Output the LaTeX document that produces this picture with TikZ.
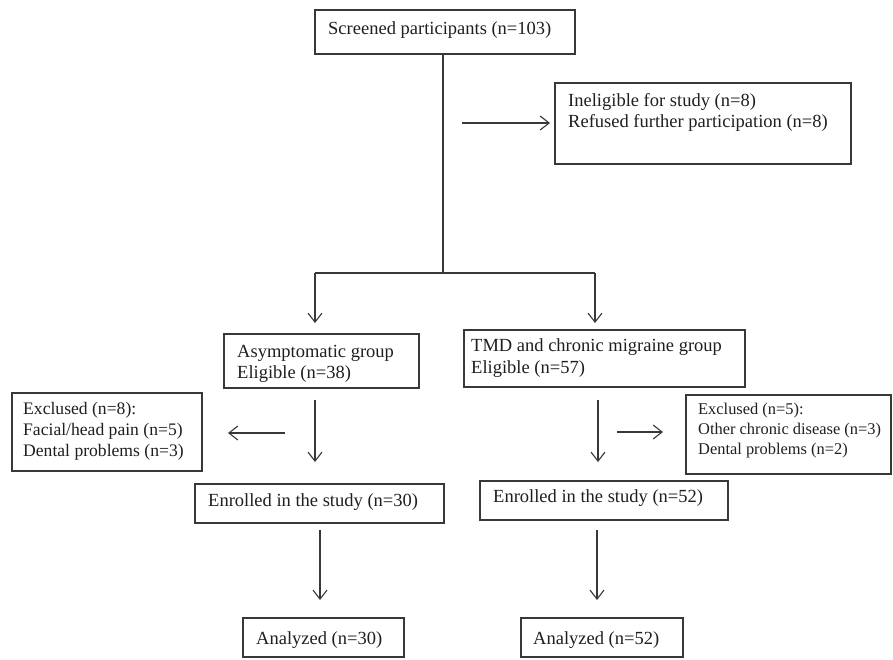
\documentclass[tikz,border=0pt]{standalone}
\usepackage{fontspec}
\setmainfont{Liberation Serif}
\usetikzlibrary{arrows.meta}
\definecolor{linec}{gray}{0.22}
\begin{document}
\begin{tikzpicture}[x=1pt,y=-1pt,
 box/.style={draw=linec, line width=1.2pt, inner sep=0pt, rectangle},
 txt/.style={anchor=west, inner sep=0pt, align=left, font=\fontsize{18.5}{21.5}\selectfont, text=black!88},
 midtxt/.style={txt, font=\fontsize{17.6}{21}\selectfont},
 smalltxt/.style={txt, font=\fontsize{16.4}{20}\selectfont},
 ln/.style={draw=linec, line width=1.1pt},
 arr/.style={ln, -{Straight Barb[length=9pt,width=14pt]}}]
\useasboundingbox (0,0) rectangle (893,659);
\fill[white] (0,0) rectangle (893,659);

% boxes
\node[box, minimum width=260pt, minimum height=44pt] (scr) at (445,32) {};
\node[box, minimum width=296pt, minimum height=81pt] (inel) at (703,123.5) {};
\node[box, minimum width=195pt, minimum height=54pt] (asym) at (321.5,361) {};
\node[box, minimum width=281pt, minimum height=57pt] (tmd) at (604.5,358.5) {};
\node[box, minimum width=190pt, minimum height=78pt] (exl) at (107,432) {};
\node[box, minimum width=205pt, minimum height=79pt] (exr) at (788.5,434.5) {};
\node[box, minimum width=249pt, minimum height=39pt] (enl) at (319.5,503.5) {};
\node[box, minimum width=248pt, minimum height=39pt] (enr) at (604,500.5) {};
\node[box, minimum width=161pt, minimum height=39pt] (anl) at (323.5,637.5) {};
\node[box, minimum width=162pt, minimum height=39pt] (anr) at (602,637.5) {};

% texts
\node[txt] (tscr) at (328,30) {Screened participants (n=103)};
\node[txt] (tinel) at (568,112.5) {Ineligible for study (n=8)\\Refused further participation (n=8)};
\node[txt] (tasym) at (237,364) {Asymptomatic group\\Eligible (n=38)};
\node[txt] (ttmd) at (471,358) {TMD and chronic migraine group\\Eligible (n=57)};
\node[midtxt] (texl) at (23,431) {Exclused (n=8):\\Facial/head pain (n=5)\\Dental problems (n=3)};
\node[smalltxt] (texr) at (698,431) {Exclused (n=5):\\Other chronic disease (n=3)\\Dental problems (n=2)};
\node[txt] (tenl) at (208,502) {Enrolled in the study (n=30)};
\node[txt] (tenr) at (493,498) {Enrolled in the study (n=52)};
\node[txt] (tanl) at (256,640) {Analyzed (n=30)};
\node[txt] (tanr) at (533,640) {Analyzed (n=52)};

% connector coordinates
\coordinate (bc) at (443,273);
\coordinate (bl) at (315,273);
\coordinate (br) at (595,273);
\coordinate (ble) at (315,323);
\coordinate (bre) at (595,323);
\coordinate (a1s) at (462,123);
\coordinate (a1e) at (550,123);
\coordinate (a2s) at (315,400);
\coordinate (a2e) at (315,462);
\coordinate (a3s) at (285,433);
\coordinate (a3e) at (228,433);
\coordinate (a4s) at (598,400);
\coordinate (a4e) at (598,462);
\coordinate (a5s) at (617,432);
\coordinate (a5e) at (663,432);
\coordinate (a6s) at (320,530);
\coordinate (a6e) at (320,600);
\coordinate (a7s) at (597,530);
\coordinate (a7e) at (597,600);

% connectors
\draw[ln] (scr.south -| bc) -- (bc);
\draw[ln] (bl) -- (br);
\draw[arr] (bl) -- (ble);
\draw[arr] (br) -- (bre);
\draw[arr] (a1s) -- (a1e);
\draw[arr] (a2s) -- (a2e);
\draw[arr] (a3s) -- (a3e);
\draw[arr] (a4s) -- (a4e);
\draw[arr] (a5s) -- (a5e);
\draw[arr] (a6s) -- (a6e);
\draw[arr] (a7s) -- (a7e);
\end{tikzpicture}
\end{document}
